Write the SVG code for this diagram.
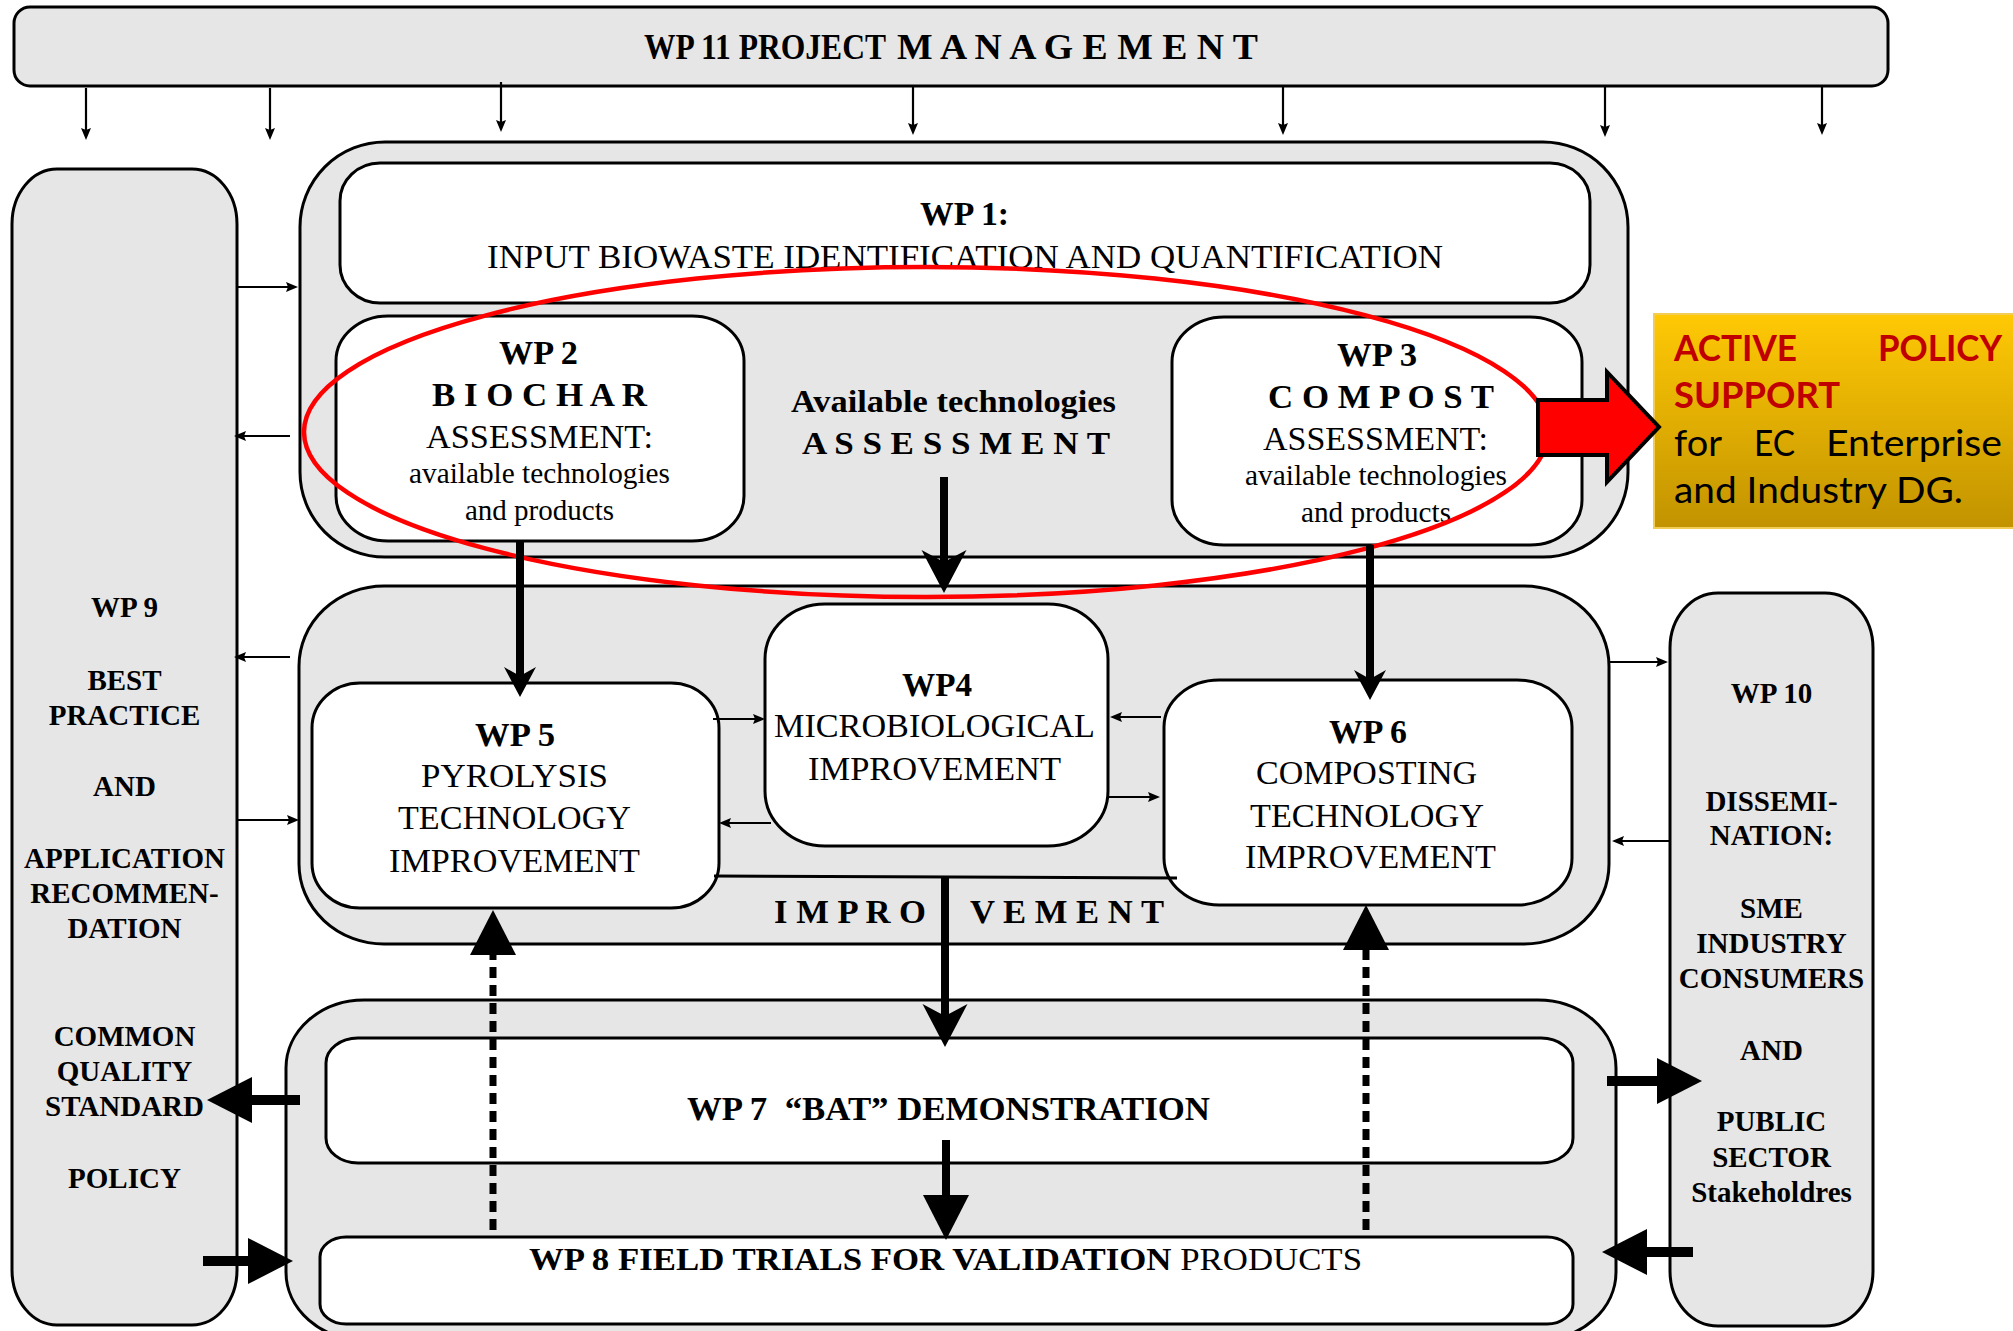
<svg xmlns="http://www.w3.org/2000/svg" width="2013" height="1331" viewBox="0 0 2013 1331">
<style>
.cont{fill:#e6e6e6;stroke:#000;stroke-width:3}
.box{fill:#fff;stroke:#000;stroke-width:3}
.t{font-family:"Liberation Serif","Times New Roman",serif;fill:#000}
.b{font-weight:bold}
.side{font-family:"Liberation Serif","Times New Roman",serif;font-weight:bold;font-size:29px;text-anchor:middle;fill:#000}
.thin{fill:none;stroke:#000;stroke-width:2.2}
.thick{fill:none;stroke:#000;stroke-width:8}
.thickh{fill:none;stroke:#000;stroke-width:10}
.dash{fill:none;stroke:#000;stroke-width:7;stroke-dasharray:11 7}
.cal{font-family:Lato,"Open Sans",sans-serif;font-size:36px}
</style>
<defs>
<marker id="thin" markerUnits="userSpaceOnUse" markerWidth="14" markerHeight="12" refX="2" refY="5" orient="auto" overflow="visible"><path d="M0,0 L12,5 L0,10 L2,5 Z" fill="#000"/></marker>
<marker id="barbL" markerUnits="userSpaceOnUse" markerWidth="44" markerHeight="46" refX="12" refY="22.5" orient="auto" overflow="visible"><path d="M0,0 L43,22.5 L0,45 L12,22.5 Z" fill="#000"/></marker>
<marker id="barbS" markerUnits="userSpaceOnUse" markerWidth="32" markerHeight="34" refX="9" refY="16" orient="auto" overflow="visible"><path d="M0,0 L30,16 L0,32 L9,16 Z" fill="#000"/></marker>
<marker id="tri" markerUnits="userSpaceOnUse" markerWidth="46" markerHeight="48" refX="1" refY="23" orient="auto" overflow="visible"><path d="M0,0 L45,23 L0,46 Z" fill="#000"/></marker>
<linearGradient id="gold" x1="0" y1="0" x2="0" y2="1"><stop offset="0" stop-color="#ffc905"/><stop offset="1" stop-color="#c29300"/></linearGradient>
</defs>

<g id="wp11">
<rect class="cont" x="14" y="7" width="1874" height="79" rx="16"/>
<text class="t b" x="644" y="59" font-size="36" textLength="242" lengthAdjust="spacingAndGlyphs">WP 11 PROJECT</text>
<text class="t b" x="897" y="59" font-size="36" textLength="361" lengthAdjust="spacingAndGlyphs">M A N A G E M E N T</text>
</g>

<g id="group-assessment">
<rect class="cont" x="300" y="142" width="1328" height="415" rx="85" ry="85"/>
</g>
<g id="group-improvement">
<rect class="cont" x="299" y="586" width="1310" height="358" rx="85" ry="80"/>
</g>
<g id="group-demonstration">
<rect class="cont" x="286" y="1000" width="1330" height="340" rx="78" ry="68"/>
</g>

<g id="wp9">
<rect class="cont" x="12" y="169" width="225" height="1156" rx="45" ry="55"/>
<text class="side" x="124.5" y="617">WP 9</text>
<text class="side" x="124.5" y="690">BEST</text>
<text class="side" x="124.5" y="725">PRACTICE</text>
<text class="side" x="124.5" y="796" font-weight="normal">AND</text>
<text class="side" x="124.5" y="868">APPLICATION</text>
<text class="side" x="124.5" y="903">RECOMMEN-</text>
<text class="side" x="124.5" y="938">DATION</text>
<text class="side" x="124.5" y="1046">COMMON</text>
<text class="side" x="124.5" y="1081">QUALITY</text>
<text class="side" x="124.5" y="1116">STANDARD</text>
<text class="side" x="124.5" y="1188">POLICY</text>
</g>

<g id="wp10">
<rect class="cont" x="1670" y="593" width="203" height="733" rx="48" ry="55"/>
<text class="side" x="1771.5" y="703">WP 10</text>
<text class="side" x="1771.5" y="811">DISSEMI-</text>
<text class="side" x="1771.5" y="845">NATION:</text>
<text class="side" x="1771.5" y="918">SME</text>
<text class="side" x="1771.5" y="953">INDUSTRY</text>
<text class="side" x="1771.5" y="988">CONSUMERS</text>
<text class="side" x="1771.5" y="1060">AND</text>
<text class="side" x="1771.5" y="1131">PUBLIC</text>
<text class="side" x="1771.5" y="1167">SECTOR</text>
<text class="side" x="1771.5" y="1202">Stakeholdres</text>
</g>

<g id="wp1">
<rect class="box" x="340" y="163" width="1250" height="140" rx="40" ry="38"/>
<text class="t b" x="920" y="225" font-size="33" textLength="89" lengthAdjust="spacingAndGlyphs">WP 1:</text>
<text class="t" x="487" y="268" font-size="34" textLength="956" lengthAdjust="spacingAndGlyphs">INPUT BIOWASTE IDENTIFICATION AND QUANTIFICATION</text>
</g>

<g id="wp2">
<rect class="box" x="336" y="316" width="408" height="225" rx="52" ry="45"/>
<text class="t b" x="499" y="364" font-size="33" textLength="79" lengthAdjust="spacingAndGlyphs">WP 2</text>
<text class="t b" x="432" y="406" font-size="34" textLength="215" lengthAdjust="spacingAndGlyphs">B I O C H A R</text>
<text class="t" x="426" y="448" font-size="34" textLength="227" lengthAdjust="spacingAndGlyphs">ASSESSMENT:</text>
<text class="t" x="409" y="483" font-size="29" textLength="261" lengthAdjust="spacingAndGlyphs">available technologies</text>
<text class="t" x="465" y="520" font-size="29" textLength="149" lengthAdjust="spacingAndGlyphs">and products</text>
</g>

<g id="assessment-label">
<text class="t b" x="791" y="412" font-size="32" textLength="325" lengthAdjust="spacingAndGlyphs">Available technologies</text>
<text class="t b" x="802" y="454" font-size="32" textLength="308" lengthAdjust="spacingAndGlyphs">A S S E S S M E N T</text>
</g>

<g id="wp3">
<rect class="box" x="1172" y="317" width="410" height="228" rx="52" ry="45"/>
<text class="t b" x="1337" y="366" font-size="33" textLength="80" lengthAdjust="spacingAndGlyphs">WP 3</text>
<text class="t b" x="1268" y="408" font-size="34" textLength="226" lengthAdjust="spacingAndGlyphs">C O M P O S T</text>
<text class="t" x="1263" y="450" font-size="34" textLength="225" lengthAdjust="spacingAndGlyphs">ASSESSMENT:</text>
<text class="t" x="1245" y="485" font-size="29" textLength="262" lengthAdjust="spacingAndGlyphs">available technologies</text>
<text class="t" x="1301" y="522" font-size="29" textLength="150" lengthAdjust="spacingAndGlyphs">and products</text>
</g>

<g id="wp5">
<rect class="box" x="312" y="683" width="407" height="225" rx="48" ry="45"/>
<text class="t b" x="475" y="746" font-size="34" textLength="80" lengthAdjust="spacingAndGlyphs">WP 5</text>
<text class="t" x="421" y="787" font-size="34" textLength="187" lengthAdjust="spacingAndGlyphs">PYROLYSIS</text>
<text class="t" x="398" y="829" font-size="34" textLength="233" lengthAdjust="spacingAndGlyphs">TECHNOLOGY</text>
<text class="t" x="389" y="872" font-size="34" textLength="251" lengthAdjust="spacingAndGlyphs">IMPROVEMENT</text>
</g>

<g id="wp4">
<rect class="box" x="765" y="604" width="343" height="242" rx="60" ry="55"/>
<text class="t b" x="902" y="696" font-size="34" textLength="70" lengthAdjust="spacingAndGlyphs">WP4</text>
<text class="t" x="774" y="737" font-size="34" textLength="321" lengthAdjust="spacingAndGlyphs">MICROBIOLOGICAL</text>
<text class="t" x="808" y="780" font-size="34" textLength="253" lengthAdjust="spacingAndGlyphs">IMPROVEMENT</text>
</g>

<g id="wp6">
<rect class="box" x="1164" y="680" width="408" height="225" rx="55" ry="47"/>
<text class="t b" x="1329" y="743" font-size="34" textLength="78" lengthAdjust="spacingAndGlyphs">WP 6</text>
<text class="t" x="1256" y="784" font-size="34" textLength="221" lengthAdjust="spacingAndGlyphs">COMPOSTING</text>
<text class="t" x="1250" y="827" font-size="34" textLength="234" lengthAdjust="spacingAndGlyphs">TECHNOLOGY</text>
<text class="t" x="1245" y="868" font-size="34" textLength="251" lengthAdjust="spacingAndGlyphs">IMPROVEMENT</text>
</g>

<g id="improvement-label">
<text class="t b" x="774" y="923" font-size="34" textLength="152" lengthAdjust="spacingAndGlyphs">I M P R O</text>
<text class="t b" x="970" y="923" font-size="34" textLength="194" lengthAdjust="spacingAndGlyphs">V E M E N T</text>
</g>

<g id="wp7">
<rect class="box" x="326" y="1038" width="1247" height="125" rx="32" ry="25"/>
<text class="t b" x="687" y="1120" font-size="34" textLength="523" lengthAdjust="spacingAndGlyphs" xml:space="preserve">WP 7  “BAT” DEMONSTRATION</text>
</g>

<g id="wp8">
<rect class="box" x="320" y="1237" width="1253" height="87" rx="26" ry="20"/>
<text class="t" x="529" y="1270" font-size="32" textLength="833" lengthAdjust="spacingAndGlyphs"><tspan font-weight="bold">WP 8 FIELD TRIALS FOR VALIDATION</tspan> PRODUCTS</text>
</g>

<g id="highlight">
<ellipse cx="926" cy="432" rx="622" ry="165" fill="none" stroke="#ff0000" stroke-width="4.5"/>
</g>

<g id="connectors">
<!-- WP11 down arrows -->
<path class="thin" marker-end="url(#thin)" d="M86,88 V130"/>
<path class="thin" marker-end="url(#thin)" d="M270,88 V130"/>
<path class="thin" marker-end="url(#thin)" d="M501,82 V122"/>
<path class="thin" marker-end="url(#thin)" d="M913,86 V125"/>
<path class="thin" marker-end="url(#thin)" d="M1283,86 V125"/>
<path class="thin" marker-end="url(#thin)" d="M1605,86 V127"/>
<path class="thin" marker-end="url(#thin)" d="M1822,86 V125"/>
<!-- WP9 links -->
<path class="thin" marker-end="url(#thin)" d="M237,287 H288"/>
<path class="thin" marker-end="url(#thin)" d="M290,436 H244"/>
<path class="thin" marker-end="url(#thin)" d="M290,657 H244"/>
<path class="thin" marker-end="url(#thin)" d="M237,820 H289"/>
<!-- WP10 links -->
<path class="thin" marker-end="url(#thin)" d="M1610,662 H1658"/>
<path class="thin" marker-end="url(#thin)" d="M1670,841 H1622"/>
<!-- WP5/WP4/WP6 links -->
<path class="thin" marker-end="url(#thin)" d="M713,719 H755"/>
<path class="thin" marker-end="url(#thin)" d="M771,823 H729"/>
<path class="thin" marker-end="url(#thin)" d="M1161,717 H1120"/>
<path class="thin" marker-end="url(#thin)" d="M1108,797 H1150"/>
<path fill="none" stroke="#000" stroke-width="3" d="M714,876 L1177,878"/>
<!-- thick vertical -->
<path class="thick" marker-end="url(#barbL)" d="M944,477 V562"/>
<path class="thick" marker-end="url(#barbS)" d="M520,541 V676"/>
<path class="thick" marker-end="url(#barbS)" d="M1370,545 V679"/>
<path class="thick" marker-end="url(#barbL)" d="M945,877 V1016"/>
<path class="thick" marker-end="url(#tri)" d="M946,1140 V1196"/>
<!-- dotted feedback -->
<path class="dash" marker-end="url(#tri)" d="M493,1230 V954"/>
<path class="dash" marker-end="url(#tri)" d="M1366,1230 V949"/>
<!-- thick horizontal -->
<path class="thickh" marker-end="url(#tri)" d="M300,1100 H251"/>
<path class="thickh" marker-end="url(#tri)" d="M203,1261 H249"/>
<path class="thickh" marker-end="url(#tri)" d="M1607,1081 H1658"/>
<path class="thickh" marker-end="url(#tri)" d="M1693,1252 H1646"/>
</g>

<g id="policy-support">
<rect x="1654" y="314" width="370" height="214" fill="url(#gold)" stroke="#f3cc55" stroke-width="2"/>
<text class="cal" x="1674" y="361" font-weight="bold" fill="#c00000" textLength="123" lengthAdjust="spacingAndGlyphs">ACTIVE</text>
<text class="cal" x="1878" y="361" font-weight="bold" fill="#c00000" textLength="124" lengthAdjust="spacingAndGlyphs">POLICY</text>
<text class="cal" x="1674" y="408" font-weight="bold" fill="#c00000" textLength="166" lengthAdjust="spacingAndGlyphs">SUPPORT</text>
<text class="cal" x="1674" y="456" fill="#000" textLength="48" lengthAdjust="spacingAndGlyphs">for</text>
<text class="cal" x="1754" y="456" fill="#000" textLength="41" lengthAdjust="spacingAndGlyphs">EC</text>
<text class="cal" x="1826" y="456" fill="#000" textLength="176" lengthAdjust="spacingAndGlyphs">Enterprise</text>
<text class="cal" x="1674" y="503" fill="#000" textLength="289" lengthAdjust="spacingAndGlyphs">and Industry DG.</text>
</g>
<g id="policy-arrow">
<polygon points="1538,400 1607,400 1607,372 1659,427 1607,482 1607,455 1538,455" fill="#ff0000" stroke="#000" stroke-width="4" stroke-linejoin="miter"/>
</g>
</svg>
